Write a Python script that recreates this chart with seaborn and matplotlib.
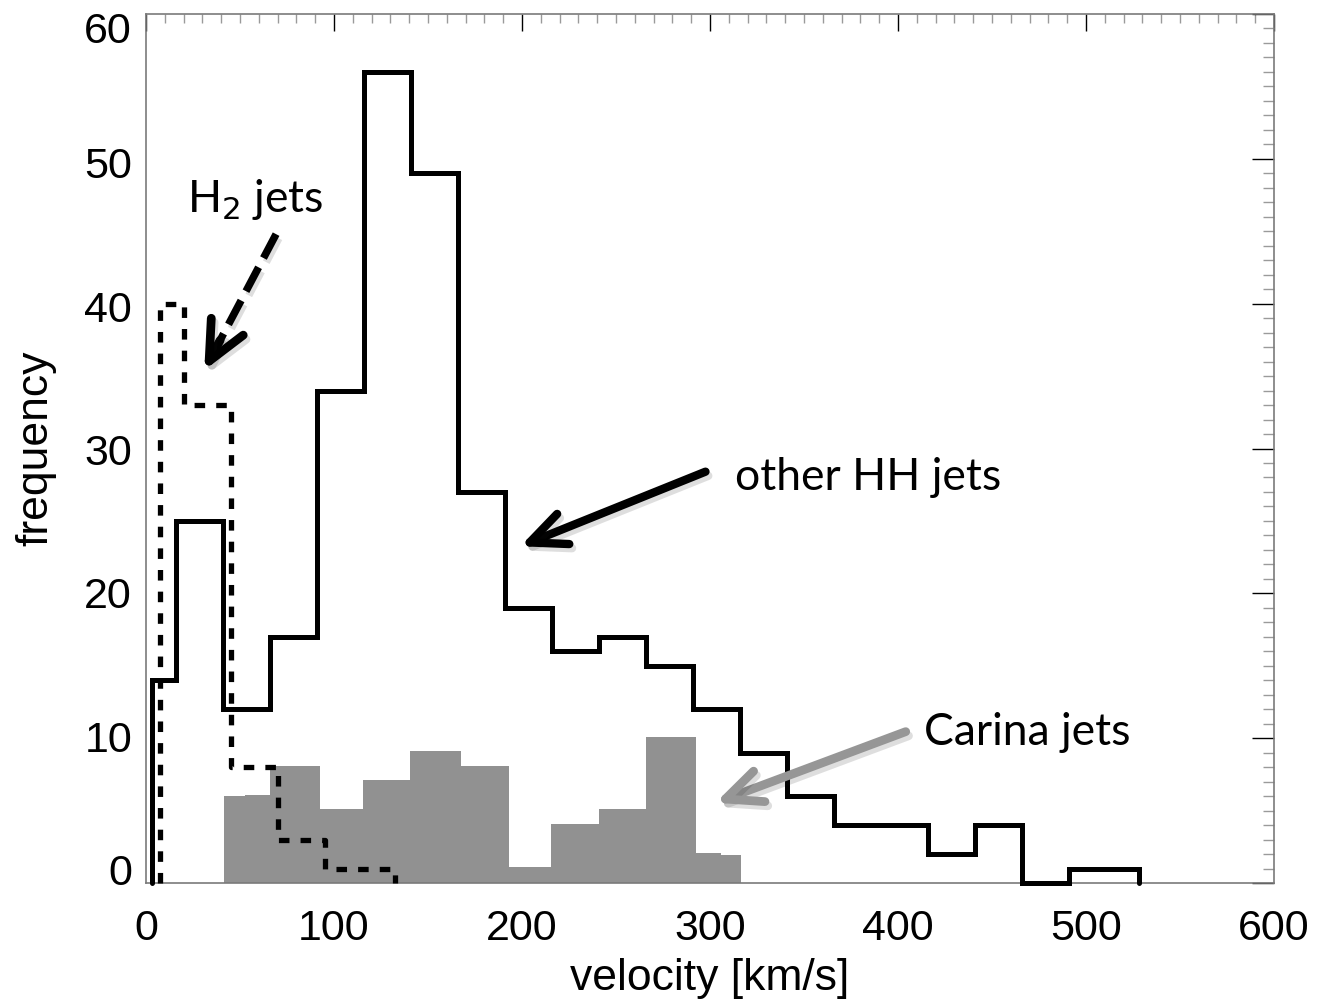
import matplotlib
matplotlib.use("Agg")
import matplotlib.pyplot as plt
import matplotlib.patheffects as pe
import matplotlib.transforms as mtransforms
from matplotlib.ticker import MultipleLocator
import numpy as np
import seaborn as sns

# ---- data -------------------------------------------------------------
# other HH jets: bin centres [km/s] and counts
hh_centers = [3.3, 28.3, 53.3, 78.3, 103.3, 128.3, 153.3, 178.3, 203.3, 228.3,
              253.3, 278.3, 303.3, 328.3, 353.3, 378.3, 403.3, 428.3, 453.3,
              478.3, 503.3, 528.3]
hh_counts = [14, 25, 12, 17, 34, 56, 49, 27, 19, 16, 17, 15, 12, 9, 6, 4, 4,
             2, 4, 0, 1, 1]

# H2 jets: bin centres [km/s] and counts
h2_centers = [7.5, 32.5, 57.5, 82.5, 107.5, 132.5]
h2_counts = [40, 33, 8, 3, 1, 1]

# Carina jets: bin edges [km/s] and heights
carina_edges = [41.5, 52.5, 65.7, 92.6, 115.5, 140.6, 167.7, 192.9, 215.6,
                240.8, 266.0, 292.8, 306.0, 316.6]
carina_counts = [6.0, 6.1, 8.1, 5.1, 7.1, 9.1, 8.1, 1.1, 4.1, 5.1, 10.1, 2.1,
                 1.9]

x_ticks = [0, 100, 200, 300, 400, 500, 600]
y_ticks = [0, 10, 20, 30, 40, 50, 60]

# ---- style ------------------------------------------------------------
sns.set_theme(style="white")
plt.rcParams["font.family"] = ["Liberation Sans", "DejaVu Sans"]

fig = plt.figure(figsize=(13.26, 10), dpi=100)
ax = fig.add_axes([0.1101, 0.117, 0.8507, 0.869])


def mid_steps(centers, counts):
    """Close a centre-based step outline down to zero at both ends."""
    xs = [centers[0]] + list(centers) + [centers[-1]]
    ys = [0] + list(counts) + [0]
    return xs, ys


# Carina jets: filled grey histogram
carina_mid = [(a + b) / 2 for a, b in zip(carina_edges[:-1], carina_edges[1:])]
sns.histplot(x=carina_mid, weights=carina_counts, bins=carina_edges,
             element="step", fill=True, color="#919191", alpha=1.0,
             linewidth=0, ax=ax, zorder=1)

# other HH jets: solid step outline
hx, hy = mid_steps(hh_centers, hh_counts)
sns.lineplot(x=hx, y=hy, sort=False, estimator=None, drawstyle="steps-mid",
             color="black", linewidth=3.6, ax=ax, legend=False, zorder=3,
             clip_on=False, solid_joinstyle="miter")

# H2 jets: dashed step outline
dx, dy = mid_steps(h2_centers, h2_counts)
sns.lineplot(x=dx, y=dy, sort=False, estimator=None, drawstyle="steps-mid",
             color="black", linewidth=3.8, linestyle=(0, (2.0, 2.1)), ax=ax,
             legend=False, zorder=4, clip_on=False, dash_capstyle="butt")

# ---- axes -------------------------------------------------------------
ax.set_xlim(0, 600)
ax.set_ylim(0, 60)
ax.set_xticks(x_ticks)
ax.set_yticks(y_ticks)
ax.xaxis.set_minor_locator(MultipleLocator(10))
ax.yaxis.set_minor_locator(MultipleLocator(1))
ax.tick_params(axis="both", which="both", direction="in", top=True,
               right=True, labelsize=31, labelcolor="black")
ax.tick_params(axis="x", which="major", length=12, width=1.0, color="black",
               pad=19)
ax.tick_params(axis="x", which="minor", length=6.5, width=1.0, color="#9a9a9a")
ax.tick_params(axis="y", which="major", length=16, width=1.0, color="black",
               pad=10)
ax.tick_params(axis="y", which="minor", length=8, width=1.0, color="#9a9a9a")
for s in ax.spines.values():
    s.set_color("#7a7a7a")
    s.set_linewidth(1.2)
    s.set_visible(True)

# y tick labels sit slightly inward of the outermost ticks
y_label_shift = {60: 10.0, 50: 3.0, 40: 2.0, 30: 0.7, 20: -0.7, 10: -1.4,
                 0: -9.4}
for tick, val in zip(ax.yaxis.get_major_ticks(), y_ticks):
    off = mtransforms.ScaledTranslation(0, -y_label_shift[val] / 72.0,
                                        fig.dpi_scale_trans)
    tick.label1.set_transform(tick.label1.get_transform() + off)

ax.set_xlabel("velocity [km/s]", fontsize=32, labelpad=6, color="black")
ax.set_ylabel("frequency", fontsize=32, labelpad=20, color="black")

# ---- annotations ------------------------------------------------------
shadow = [pe.SimpleLineShadow(offset=(2, -3), shadow_color="k", alpha=0.14),
          pe.Normal()]
head = "->,head_length=26,head_width=11.7"
ann_font = ["Lato", "DejaVu Sans"]

# other HH jets
ax.annotate("", xy=(199.1, 23.25), xytext=(297.6, 28.4),
            arrowprops=dict(arrowstyle=head, mutation_scale=1, lw=6,
                            color="black", capstyle="round",
                            joinstyle="round", shrinkA=0, shrinkB=0,
                            path_effects=shadow), zorder=6)
ax.text(313.5, 28.0, "other HH jets", fontsize=32, family=ann_font,
        va="center", ha="left", color="black")

# Carina jets
ax.annotate("", xy=(302.9, 5.54), xytext=(404.1, 10.45),
            arrowprops=dict(arrowstyle=head, mutation_scale=1, lw=6.3,
                            color="#969696", capstyle="round",
                            joinstyle="round", shrinkA=0, shrinkB=0,
                            path_effects=shadow), zorder=6)
ax.text(413.7, 10.4, "Carina jets", fontsize=32, family=ann_font,
        va="center", ha="left", color="black")

# H2 jets: dashed shaft + solid chevron head
tail = np.array([69.2, 44.8])
tip = np.array([31.0, 35.4])
neck = tip + 0.22 * (tail - tip)
ax.annotate("", xy=neck, xytext=tail,
            arrowprops=dict(arrowstyle="-", lw=5.4, color="black",
                            linestyle=(0, (3.6, 1.4)), capstyle="butt",
                            shrinkA=0, shrinkB=0, path_effects=shadow),
            zorder=6)
ax.annotate("", xy=tip, xytext=neck,
            arrowprops=dict(arrowstyle="->,head_length=28,head_width=13",
                            mutation_scale=1, lw=6.3,
                            color="black", capstyle="round",
                            joinstyle="round", shrinkA=0, shrinkB=0,
                            path_effects=shadow), zorder=6)
ax.text(21.8, 46.3, "H$_2$ jets", fontsize=32, family=ann_font,
        va="baseline", ha="left", color="black")

fig.savefig("out.png", dpi=100)
